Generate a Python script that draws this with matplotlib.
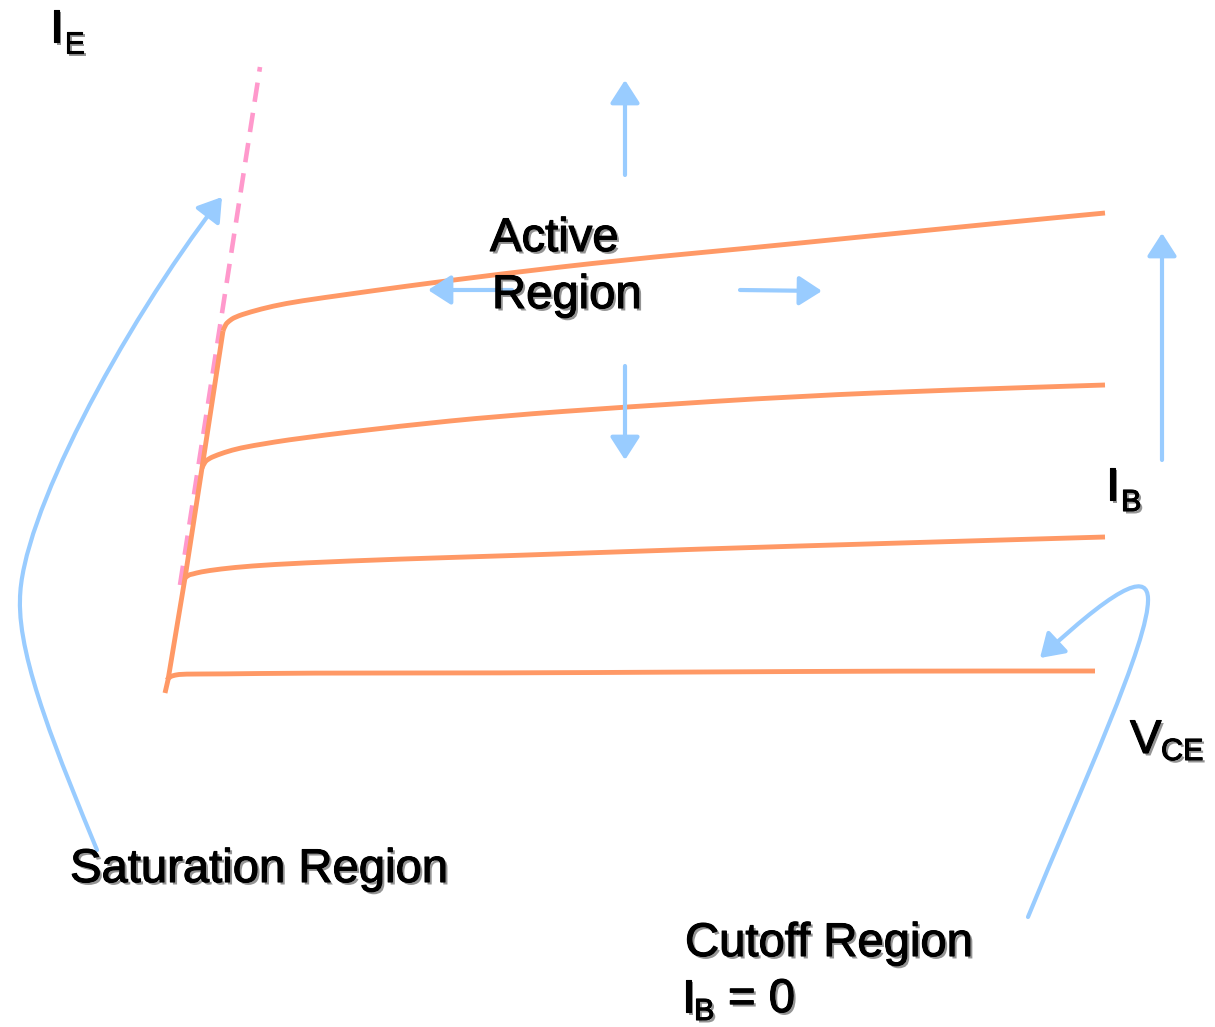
import matplotlib.pyplot as plt
import matplotlib.patheffects as pe
from matplotlib.patches import FancyArrowPatch, PathPatch
from matplotlib.path import Path

plt.rcParams['font.family'] = ['Liberation Sans', 'DejaVu Sans']
plt.rcParams['lines.scale_dashes'] = False

# Diagram data (image pixel space, y grows downwards)
# saturation edge joining the knees of the I_B curves
sat_edge_x = [165, 168, 185, 202, 223]
sat_edge_y = [693, 680, 578, 468, 331]

# output curves, one per base current (top to bottom)
curve_x = [
    [223, 225, 229, 235, 250, 273, 300, 350, 400, 500, 622, 750, 850, 1000, 1105],
    [202, 204, 208, 217, 232, 250, 300, 400, 500, 625, 800, 950, 1105],
    [185, 188, 193, 200, 220, 250, 300, 400, 500, 700, 900, 1105],
    [167, 169, 175, 183, 220, 300, 500, 700, 900, 1095],
]
curve_y = [
    [331, 325, 321, 317, 312, 306, 301, 294, 287, 274, 260, 248, 238, 223, 213],
    [468, 463, 459, 455, 450, 446, 438, 426, 416, 407, 396, 390, 385],
    [578, 575, 574, 572, 569, 566, 563, 559, 556, 549, 543, 537],
    [680, 677, 675, 674, 674, 673, 673, 672, 671, 671],
]

# pink dashed saturation boundary
sat_line_x = [180, 260]
sat_line_y = [585, 67]

# straight arrows: (x_start, y_start, x_end, y_end)
straight_arrows = [
    (625, 175, 625, 80),
    (625, 366, 625, 460),
    (512, 290, 428, 290),
    (740, 290, 822, 291),
    (1162, 460, 1162, 233),
]

# curved pointer arrows as cubic bezier vertices
sat_pointer = [(97, 850), (60, 760), (18, 660), (20, 600),
               (20, 520), (120, 330), (222, 197)]
cutoff_pointer = [(1028, 917), (1080, 790), (1150, 640), (1148, 598),
                  (1147, 578), (1128, 576), (1040, 658)]

# labels: (text, x, baseline_y, fontsize)
labels = [
    ('I', 50, 42, 34), ('E', 64, 53, 22),
    ('Active', 490, 251, 34),
    ('Region', 492, 308, 34),
    ('I', 1106, 500, 34), ('B', 1121, 511, 22),
    ('V', 1130, 753, 34), ('CE', 1161, 760, 22),
    ('Saturation Region', 70, 882, 34),
    ('Cutoff Region', 685, 956, 34),
    ('I', 682, 1012, 34), ('B', 694, 1020, 22), ('= 0', 728, 1012, 34),
]

orange = '#FF9966'
blue = '#99CCFF'
pink = '#FF99CC'


def smooth_path(xs, ys):
    # quadratic bezier through the midpoints of the listed points
    pts = list(zip(xs, ys))
    verts = [pts[0]]
    codes = [Path.MOVETO]
    for i in range(1, len(pts) - 1):
        mid = ((pts[i][0] + pts[i + 1][0]) / 2, (pts[i][1] + pts[i + 1][1]) / 2)
        verts += [pts[i], mid]
        codes += [Path.CURVE3, Path.CURVE3]
    verts.append(pts[-1])
    codes.append(Path.LINETO)
    return Path(verts, codes)


fig = plt.figure(figsize=(12.15, 10.27), dpi=100)
ax = fig.add_axes([0, 0, 1, 1])
ax.set_xlim(0, 1215)
ax.set_ylim(1027, 0)
ax.axis('off')

ax.plot(sat_line_x, sat_line_y, color=pink, lw=3.3, dashes=(14, 8), zorder=1)

ax.plot(sat_edge_x, sat_edge_y, color=orange, lw=3.5, solid_capstyle='butt',
        solid_joinstyle='round', zorder=2)
for xs, ys in zip(curve_x, curve_y):
    ax.add_patch(PathPatch(smooth_path(xs, ys), fill=False, edgecolor=orange,
                           lw=3.5, joinstyle='round', zorder=2))

arrow_style = '-|>,head_length=0.7,head_width=0.45'
for x0, y0, x1, y1 in straight_arrows:
    ax.add_patch(FancyArrowPatch((x0, y0), (x1, y1), arrowstyle=arrow_style,
                                 mutation_scale=20, color=blue, lw=3.0,
                                 shrinkA=0, shrinkB=0, zorder=3))

codes = [Path.MOVETO] + [Path.CURVE4] * 6
for verts in (sat_pointer, cutoff_pointer):
    ax.add_patch(FancyArrowPatch(path=Path(verts, codes), arrowstyle=arrow_style,
                                 mutation_scale=20, color=blue, lw=3.0, zorder=3))

shadow = [pe.withSimplePatchShadow(offset=(1.8, -1.8), shadow_rgbFace='0.3', alpha=0.6),
          pe.Stroke(linewidth=0.8, foreground='black'),
          pe.Normal()]
for txt, x, y, size in labels:
    ax.text(x, y, txt, fontsize=size, color='black', ha='left', va='baseline',
            path_effects=shadow, zorder=4)

fig.savefig('out.png', dpi=100)
